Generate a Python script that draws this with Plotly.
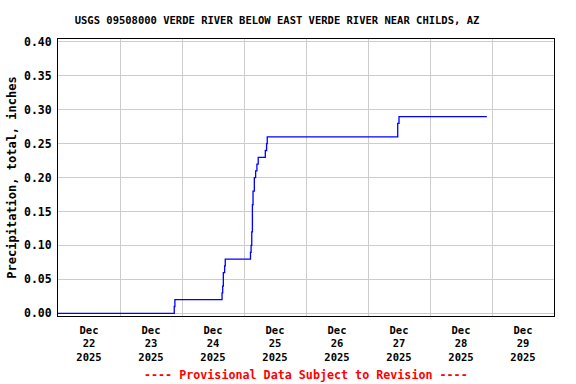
import plotly.graph_objects as go

times = [
    "2025-12-22 00:00", "2025-12-23 21:00", "2025-12-23 21:15",
    "2025-12-24 15:30", "2025-12-24 15:45", "2025-12-24 16:00",
    "2025-12-24 16:30", "2025-12-24 16:45", "2025-12-25 02:30",
    "2025-12-25 02:45", "2025-12-25 03:00", "2025-12-25 03:15",
    "2025-12-25 03:30", "2025-12-25 04:00", "2025-12-25 04:30",
    "2025-12-25 05:00", "2025-12-25 05:30", "2025-12-25 08:15",
    "2025-12-25 08:45", "2025-12-25 09:00", "2025-12-27 11:30",
    "2025-12-27 12:00", "2025-12-28 22:00",
]
precip = [
    0.00, 0.01, 0.02,
    0.03, 0.04, 0.06,
    0.07, 0.08, 0.09,
    0.10, 0.12, 0.16,
    0.18, 0.20, 0.21,
    0.22, 0.23, 0.24,
    0.25, 0.26, 0.28,
    0.29, 0.29,
]

tick_days = ["2025-12-22", "2025-12-23", "2025-12-24", "2025-12-25",
             "2025-12-26", "2025-12-27", "2025-12-28", "2025-12-29"]
tick_labels = ["Dec<br>22<br>2025", "Dec<br>23<br>2025", "Dec<br>24<br>2025",
               "Dec<br>25<br>2025", "Dec<br>26<br>2025", "Dec<br>27<br>2025",
               "Dec<br>28<br>2025", "Dec<br>29<br>2025"]
grid_days = ["2025-12-23", "2025-12-24", "2025-12-25", "2025-12-26",
             "2025-12-27", "2025-12-28", "2025-12-29"]
y_ticks = [0.00, 0.05, 0.10, 0.15, 0.20, 0.25, 0.30, 0.35, 0.40]

FONT = "DejaVu Sans Mono"

fig = go.Figure()
fig.add_trace(go.Scatter(
    x=times, y=precip, mode="lines", line_shape="hv",
    line=dict(color="#0000ff", width=1.3), showlegend=False,
))

fig.update_layout(
    width=576, height=384,
    margin=dict(l=58, r=22, t=39, b=68),
    paper_bgcolor="white", plot_bgcolor="white",
    font=dict(family=FONT, size=12, color="black", weight="bold"),
    title=dict(
        text="USGS 09508000 VERDE RIVER BELOW EAST VERDE RIVER NEAR CHILDS, AZ",
        x=277 / 576, xanchor="center", xref="container",
        y=1 - 20 / 384, yanchor="middle", yref="container",
        font=dict(family=FONT, size=10.5, color="black", weight="bold"),
        automargin=False,
    ),
    xaxis=dict(
        type="date",
        range=["2025-12-22 00:00", "2025-12-30 00:00"],
        tickvals=[d + " 12:00" for d in tick_days],
        ticktext=tick_labels,
        tickfont=dict(family=FONT, size=10.5, weight="bold"),
        showgrid=False, ticks="", automargin=False,
        ticklabelstandoff=4,
        minor=dict(tickvals=grid_days, showgrid=True, gridcolor="#cccccc",
                   gridwidth=1, ticks=""),
        showline=True, linecolor="black", linewidth=1, mirror=True,
        zeroline=False,
    ),
    yaxis=dict(
        range=[-0.004, 0.4044],
        tickvals=y_ticks,
        tickformat=".2f",
        tickfont=dict(family=FONT, size=11.5, weight="bold"),
        showgrid=True, gridcolor="#cccccc", gridwidth=1,
        ticks="", automargin=False,
        ticklabelstandoff=3,
        showline=True, linecolor="black", linewidth=1, mirror=True,
        zeroline=False,
        title=dict(text="Precipitation, total, inches",
                   font=dict(family=FONT, size=12, weight="bold"),
                   standoff=4),
    ),
)

fig.add_annotation(
    text="---- Provisional Data Subject to Revision ----",
    xref="paper", yref="paper", x=0.5, y=-(375 - 316) / (316 - 39),
    xanchor="center", yanchor="middle", showarrow=False,
    font=dict(family=FONT, size=11.7, color="red", weight="bold"),
)

fig.write_html("out.html",
               config={"displayModeBar": False},
               post_script="document.body.style.margin='0';document.body.style.overflow='hidden';")
